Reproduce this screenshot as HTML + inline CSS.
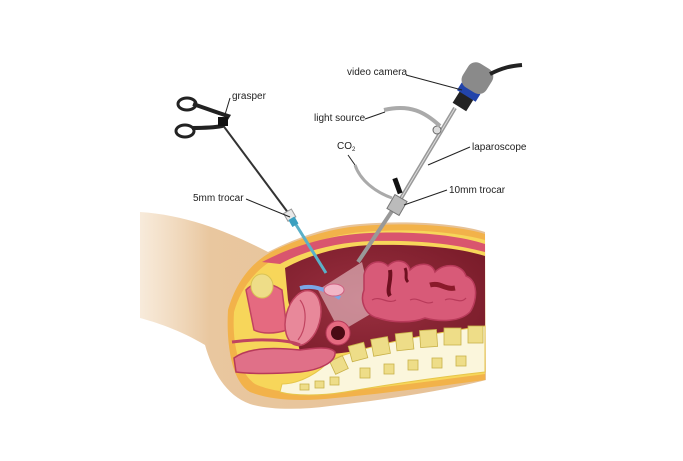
<!DOCTYPE html>
<html><head><style>
html,body{margin:0;padding:0;background:#fff;}
svg{display:block;}
text{font-family:"Liberation Sans",sans-serif;font-size:10px;fill:#222;}
</style></head><body>
<svg width="683" height="461" viewBox="0 0 683 461" xmlns="http://www.w3.org/2000/svg">
<defs>
<linearGradient id="skin" x1="0" x2="1" y1="0" y2="0">
<stop offset="0" stop-color="#f0d6b6" stop-opacity="0.5"/>
<stop offset="0.2" stop-color="#e9c79f"/>
<stop offset="1" stop-color="#e6c196"/>
</linearGradient>
<radialGradient id="cav" cx="0.4" cy="0.5" r="0.7">
<stop offset="0" stop-color="#9a3040"/>
<stop offset="1" stop-color="#7a1c2a"/>
</radialGradient>
<linearGradient id="fade" x1="0" x2="1">
<stop offset="0.85" stop-color="#fff" stop-opacity="0"/>
<stop offset="1" stop-color="#fff" stop-opacity="0.9"/>
</linearGradient>
</defs>
<path d="M140,212 C190,215 235,235 268,252 C300,236 330,226 360,224 C410,220 460,224 485,232 L486,380 C440,392 380,400 330,406 C300,410 270,410 250,404 C225,395 212,370 205,345 C180,330 155,322 140,318 Z" fill="url(#skin)"/>
<path d="M228,310 C235,285 250,262 275,250 C305,236 335,228 360,226 C410,222 460,226 485,234 L485,380 C440,386 380,394 335,398 C300,402 270,400 250,392 C232,382 226,345 228,310 Z" fill="#f2b24a"/>
<path d="M234,312 C240,290 255,268 280,256 C310,242 338,234 362,232 C410,228 455,232 485,240 L485,374 C440,380 380,388 335,392 C300,395 272,392 255,384 C238,372 232,342 234,312 Z" fill="#f7d65a"/>
<path d="M262,262 C300,242 340,234 370,233 C420,231 460,236 485,244 L485,252 C455,244 420,240 372,241 C340,242 305,250 280,264 Z" fill="#d9556e"/>
<path d="M285,268 C315,252 345,246 372,245 C420,244 460,248 485,256 L485,326 C450,332 400,342 360,350 C340,354 320,356 300,352 L288,300 Z" fill="url(#cav)"/>
<polygon points="362,262 318,290 340,332 374,312" fill="#f6d8de" opacity="0.55"/>
<g fill="#d85a78" stroke="#b83a5a" stroke-width="1.5">
<path d="M364,275 C366,262 380,258 388,266 C395,258 408,260 410,270 C418,262 432,262 435,272 C445,262 462,264 466,276 C478,280 478,300 470,312 C460,322 440,322 425,318 C410,324 390,322 378,318 C364,315 360,300 364,290 Z"/>
</g>
<path d="M390,270 C392,280 386,290 390,296" stroke="#6e1020" stroke-width="4" fill="none"/>
<path d="M405,268 C408,274 404,278 408,282" stroke="#6e1020" stroke-width="3" fill="none"/>
<path d="M430,285 C440,282 445,290 455,288" stroke="#8a1a2a" stroke-width="5" fill="none"/>
<path d="M372,300 C380,295 388,305 396,300 M410,300 C418,296 425,306 433,302 M445,300 C452,296 460,305 466,298" stroke="#b83a5a" stroke-width="1.2" fill="none"/>
<path d="M330,360 C370,345 420,335 485,326 L485,372 C430,378 380,386 345,392 C320,396 295,396 280,392 L282,384 C300,384 320,372 330,360 Z" fill="#fbf6dc" stroke="#e6c64a" stroke-width="1"/>
<g fill="#eedd88" stroke="#c9b24a" stroke-width="0.8">
<rect x="350" y="344" width="16" height="16" transform="rotate(-15 358 352)"/>
<rect x="372" y="338" width="17" height="17" transform="rotate(-10 380 346)"/>
<rect x="396" y="333" width="17" height="17" transform="rotate(-6 404 341)"/>
<rect x="420" y="330" width="17" height="17" transform="rotate(-4 428 338)"/>
<rect x="444" y="328" width="17" height="17"/>
<rect x="468" y="326" width="15" height="17"/>
<rect x="332" y="358" width="14" height="14" transform="rotate(-25 339 365)"/>
<rect x="360" y="368" width="10" height="10"/><rect x="384" y="364" width="10" height="10"/>
<rect x="408" y="360" width="10" height="10"/><rect x="432" y="358" width="10" height="10"/>
<rect x="456" y="356" width="10" height="10"/>
<rect x="300" y="384" width="9" height="6"/><rect x="315" y="381" width="9" height="7"/><rect x="330" y="377" width="9" height="8"/>
</g>
<path d="M246,290 C255,280 270,282 282,290 L287,330 C275,334 262,334 254,330 Z" fill="#e56a80" stroke="#c04460" stroke-width="1.5"/>
<ellipse cx="262" cy="286" rx="11" ry="12" fill="#eedd88" stroke="#d9c355"/>
<ellipse cx="303" cy="318" rx="17" ry="28" fill="#e8889a" stroke="#c04460" stroke-width="1.5" transform="rotate(15 303 318)"/>
<path d="M300,300 C308,310 306,330 298,340" stroke="#c04460" fill="none" stroke-width="1.2"/>
<path d="M300,288 C315,284 330,292 340,298" stroke="#7aa6e6" stroke-width="4" fill="none"/>
<ellipse cx="334" cy="290" rx="10" ry="6" fill="#f1b6c6" stroke="#d06080"/>
<circle cx="338" cy="333" r="12" fill="#e56a80" stroke="#b83a5a"/>
<circle cx="338" cy="333" r="7" fill="#4a0a14"/>
<path d="M234,358 C250,346 280,348 300,350 C315,348 330,346 335,352 C336,362 320,370 300,372 C275,374 250,374 236,372 Z" fill="#e07088" stroke="#b83a5a" stroke-width="1.5"/>
<path d="M232,342 C260,338 290,340 300,345" stroke="#c04460" stroke-width="3" fill="none"/>
<rect x="470" y="225" width="20" height="170" fill="url(#fade)"/>
<line x1="222" y1="124" x2="292" y2="218" stroke="#333" stroke-width="2"/>
<g fill="none" stroke="#222" stroke-width="3">
<ellipse cx="187" cy="104" rx="9" ry="6"/>
<ellipse cx="185" cy="131" rx="9" ry="6"/>
</g>
<path d="M193,104 C205,108 215,112 228,116 L222,126 C212,128 200,128 192,128" stroke="#222" stroke-width="4" fill="none"/>
<rect x="218" y="117" width="10" height="9" fill="#111"/>
<line x1="290" y1="215" x2="326" y2="273" stroke="#5ab0c8" stroke-width="3"/>
<rect x="285" y="211" width="9" height="9" fill="#e8e8e8" stroke="#999" transform="rotate(-30 289 215)"/>
<rect x="290" y="218" width="7" height="8" fill="#3aa0c0" transform="rotate(-30 293 222)"/>
<line x1="455" y1="108" x2="400" y2="200" stroke="#999" stroke-width="4"/>
<line x1="455" y1="108" x2="400" y2="200" stroke="#ddd" stroke-width="1"/>
<line x1="396" y1="205" x2="358" y2="262" stroke="#999" stroke-width="4"/>
<rect x="390" y="197" width="14" height="16" fill="#bbb" stroke="#777" transform="rotate(30 397 205)"/>
<rect x="395" y="178" width="5" height="16" fill="#111" transform="rotate(-20 397 186)"/>
<circle cx="437" cy="130" r="4" fill="#ddd" stroke="#666"/>
<path d="M384,110 C410,104 425,112 440,126" stroke="#aaa" stroke-width="4" fill="none"/>
<path d="M355,165 C360,180 375,192 392,198" stroke="#aaa" stroke-width="3" fill="none"/>
<g transform="rotate(32 470 90)">
<rect x="462" y="96" width="16" height="14" fill="#222"/>
<rect x="459" y="88" width="22" height="9" fill="#2244aa"/>
<rect x="456" y="62" width="28" height="28" rx="9" fill="#8a8a8a"/>
</g>
<path d="M490,74 C502,68 510,66 522,65" stroke="#222" stroke-width="4" fill="none"/>
<g stroke="#222" stroke-width="1" fill="none">
<line x1="230" y1="98" x2="224" y2="118"/>
<line x1="406" y1="75" x2="462" y2="90"/>
<line x1="365" y1="119" x2="385" y2="112"/>
<line x1="348" y1="155" x2="355" y2="165"/>
<line x1="470" y1="147" x2="428" y2="165"/>
<line x1="246" y1="199" x2="290" y2="217"/>
<line x1="447" y1="190" x2="404" y2="205"/>
</g>
<text x="232" y="99">grasper</text>
<text x="347" y="75">video camera</text>
<text x="314" y="121">light source</text>
<text x="337" y="149">CO<tspan font-size="6" dy="2">2</tspan></text>
<text x="472" y="150">laparoscope</text>
<text x="193" y="201">5mm trocar</text>
<text x="449" y="193">10mm trocar</text>
</svg>
</body></html>
